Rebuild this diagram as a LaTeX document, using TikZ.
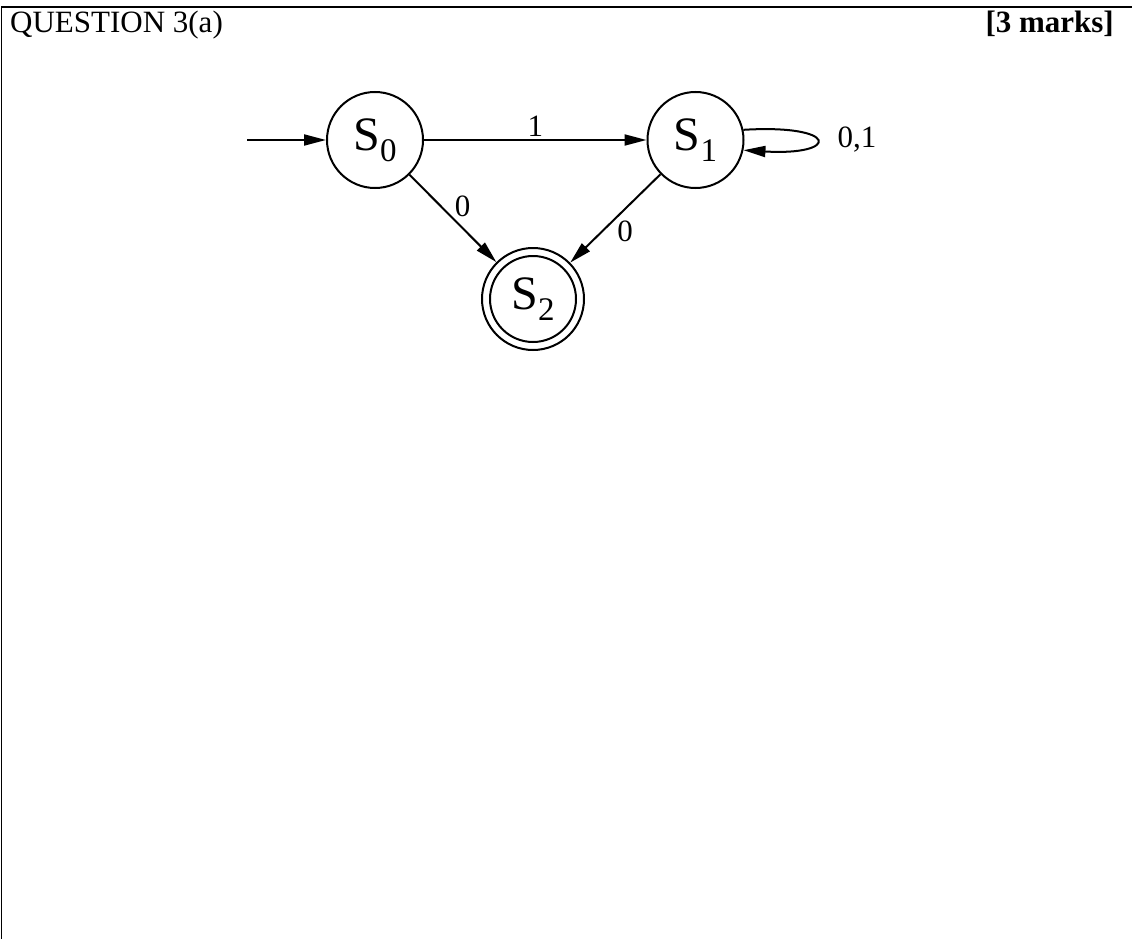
\documentclass[tikz,border=0pt]{standalone}
\usepackage{fontspec}
\setmainfont{Liberation Serif}
\usetikzlibrary{arrows.meta}
\newcommand{\stlabel}[1]{\fontsize{48}{48}\selectfont S\raisebox{-11pt}{\fontsize{33}{33}\selectfont #1}}
\tikzset{
  statenode/.style={circle, draw, line width=2pt, minimum size=96pt, inner sep=0pt},
  acceptnode/.style={circle, draw, line width=2pt, minimum size=102pt, inner sep=0pt},
  edge/.style={line width=2pt, -{Triangle[length=22pt, width=11pt]}},
  lbl/.style={font=\fontsize{31}{36}\selectfont, inner sep=2pt},
  frame/.style={line width=1.6pt}
}
\begin{document}
\begin{tikzpicture}[x=1pt, y=-1pt]
\useasboundingbox (0,0) rectangle (1132,939);
% frame
\coordinate (ftl) at (1.5,7);
\coordinate (ftr) at (1132,7);
\coordinate (fbl) at (1.5,939);
\draw[frame] (ftr) -- (ftl) -- (fbl);
% header
\node[lbl, anchor=base west, inner sep=0pt] (q) at (10,33) {QUESTION 3(a)};
\node[lbl, anchor=base east, inner sep=0pt, font=\fontsize{31}{36}\selectfont\bfseries] (m) at (1114,33) {[3 marks]};
% states
\node[statenode] (s0) at (375,140) {\stlabel{0}};
\node[statenode] (s1) at (695.5,140) {\stlabel{1}};
\node[acceptnode] (s2) at (533,299) {\stlabel{2}};
\draw[line width=2pt] (s2.center) circle (43pt);
% edges
\coordinate (init) at (247,140);
\draw[edge] (init) -- (s0);
\draw[edge] (s0) -- node[lbl, above] (l1) {1} (s1);
\draw[edge] (s0) -- node[lbl, above right, inner sep=1pt] (l0a) {0} (s2);
\draw[edge] (s1) -- node[lbl, below right, inner sep=1pt] (l0b) {0} (s2);
\draw[edge] (s1.12) .. controls (840,124) and (840,156) .. (s1.-12);
\node[lbl] (l01) at (857,140) {0,1};
\end{tikzpicture}
\end{document}
